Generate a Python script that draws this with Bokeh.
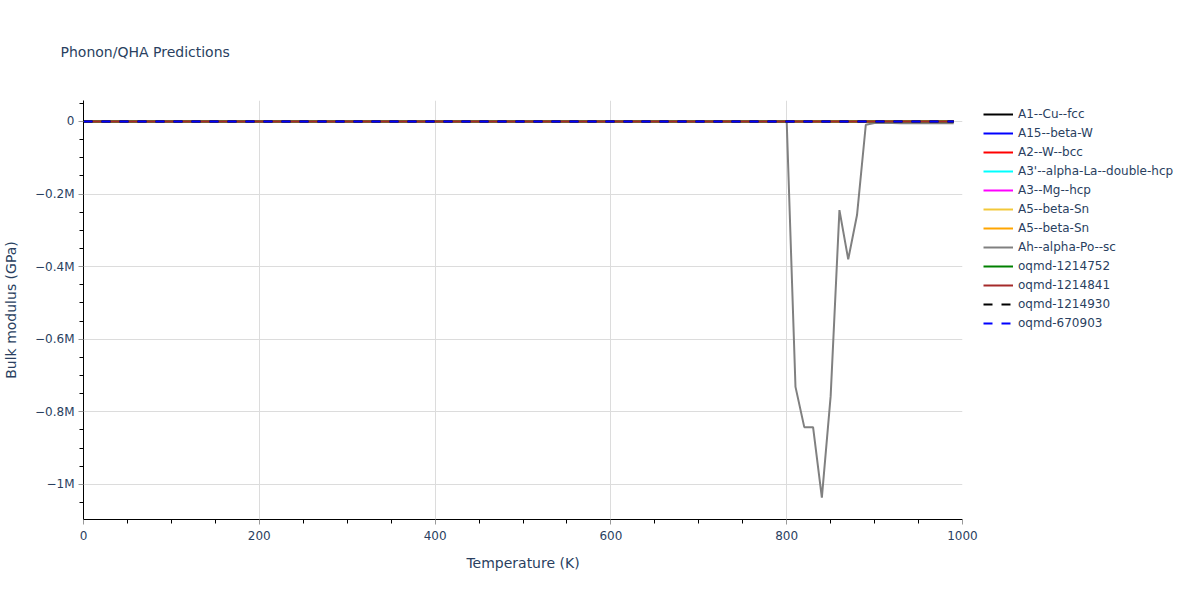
from bokeh.plotting import figure
from bokeh.models import (Legend, LegendItem, FixedTicker, CustomJSTickFormatter, Range1d)
from bokeh.embed import file_html
from bokeh.resources import INLINE

# ---- data ----
temps_full = [0, 990]
series_names = ["A1--Cu--fcc", "A15--beta-W", "A2--W--bcc", "A3'--alpha-La--double-hcp",
                "A3--Mg--hcp", "A5--beta-Sn", "A5--beta-Sn", "Ah--alpha-Po--sc",
                "oqmd-1214752", "oqmd-1214841", "oqmd-1214930", "oqmd-670903"]
series_colors = ["black", "blue", "red", "cyan", "magenta", "#f2c83a", "orange", "gray",
                 "green", "brown", "black", "blue"]
series_dash = ["solid"] * 10 + ["9 9", "9 9"]

# near-zero series (bulk modulus in GPa, invisible at the MGPa scale)
flat_values = {
    "A1--Cu--fcc": [140, 120],
    "A15--beta-W": [300, 290],
    "A2--W--bcc": [310, 300],
    "A3'--alpha-La--double-hcp": [25, 22],
    "A3--Mg--hcp": [35, 30],
    "A5--beta-Sn#1": [55, 50],
    "A5--beta-Sn#2": [52, 48],
    "oqmd-1214752": [90, 85],
    "oqmd-1214841": [110, 100],
    "oqmd-1214930": [110, 100],
    "oqmd-670903": [110, 100],
}

po_temps = [0, 800, 810, 820, 830, 840, 850, 860, 870, 880, 890, 900,
            910, 920, 930, 940, 950, 960, 970, 980, 990]
po_values = [0, 0, -731600, -842500, -842500, -1036600, -757000, -244500, -380000,
             -258000, -9200, -4600, -4600, -4600, -4700, -4700, -4800, -4800,
             -4900, -4900, -5000]

x_major = [0, 200, 400, 600, 800, 1000]
x_minor = [50, 100, 150, 250, 300, 350, 450, 500, 550, 650, 700, 750, 850, 900, 950]
y_major = [0, -200000, -400000, -600000, -800000, -1000000]
y_minor = [50000, -50000, -100000, -150000, -250000, -300000, -350000, -450000, -500000,
           -550000, -650000, -700000, -750000, -850000, -900000, -950000, -1050000]

FONT = "DejaVu Sans"
TXT = "#2a3f5f"

p = figure(frame_width=879, frame_height=419, output_backend="svg", toolbar_location=None,
           x_range=Range1d(0, 1000), y_range=Range1d(-1097000, 57700),
           min_border_left=76, min_border_right=229, min_border_top=100, min_border_bottom=64,
           background_fill_color="white", border_fill_color="white")
p.outline_line_color = None

p.title.text = "Phonon/QHA Predictions"
p.title.text_font = FONT
p.title.text_font_size = "14px"
p.title.text_font_style = "normal"
p.title.text_color = TXT
p.title.align = "left"
p.title.offset = -23
p.title.standoff = 82

for ax in (p.xaxis[0], p.yaxis[0]):
    ax.axis_line_color = "black"
    ax.axis_line_width = 1
    ax.major_label_text_font = FONT
    ax.major_label_text_font_size = "12px"
    ax.major_label_text_color = TXT
    ax.axis_label_text_font = FONT
    ax.axis_label_text_font_size = "14px"
    ax.axis_label_text_color = TXT
    ax.axis_label_text_font_style = "normal"
    ax.major_tick_in = 0
    ax.major_tick_out = 5
    ax.minor_tick_in = 0
    ax.minor_tick_out = 4
    ax.minor_tick_line_color = "black"
    ax.major_tick_line_color = "#999999"

p.xaxis.axis_label = "Temperature (K)"
p.yaxis.axis_label = "Bulk modulus (GPa)"
p.xaxis.ticker = FixedTicker(ticks=x_major, minor_ticks=x_minor)
p.yaxis.ticker = FixedTicker(ticks=y_major, minor_ticks=y_minor)
p.yaxis.formatter = CustomJSTickFormatter(code="""
    if (tick == 0) { return "0"; }
    const m = Math.round(Math.abs(tick) / 1e5) / 10;
    return (tick < 0 ? "\\u2212" : "") + m + "M";
""")
p.xaxis.major_label_standoff = 6
p.yaxis.major_label_standoff = 4
p.xaxis.axis_label_standoff = 12
p.yaxis.axis_label_standoff = 13

p.xgrid.grid_line_color = "#dcdcdc"
p.ygrid.grid_line_color = "#dcdcdc"

keys = ["A1--Cu--fcc", "A15--beta-W", "A2--W--bcc", "A3'--alpha-La--double-hcp",
        "A3--Mg--hcp", "A5--beta-Sn#1", "A5--beta-Sn#2", None,
        "oqmd-1214752", "oqmd-1214841", "oqmd-1214930", "oqmd-670903"]

items = []
for name, key, col, dash in zip(series_names, keys, series_colors, series_dash):
    if key is None:
        r = p.line(po_temps, po_values, line_color=col, line_width=2, line_dash=dash)
    else:
        r = p.line(temps_full, flat_values[key], line_color=col, line_width=2, line_dash=dash)
    items.append(LegendItem(label=name, renderers=[r]))

legend = Legend(items=items, location=(17, 184))
legend.label_text_font = FONT
legend.label_text_font_size = "12px"
legend.label_text_color = TXT
legend.glyph_width = 30
legend.glyph_height = 16
legend.label_height = 16
legend.spacing = 3
legend.padding = 4
legend.margin = 0
legend.label_standoff = 5
legend.border_line_alpha = 0
legend.background_fill_alpha = 0
p.add_layout(legend, "right")

open("out.html", "w").write(file_html(p, INLINE))
